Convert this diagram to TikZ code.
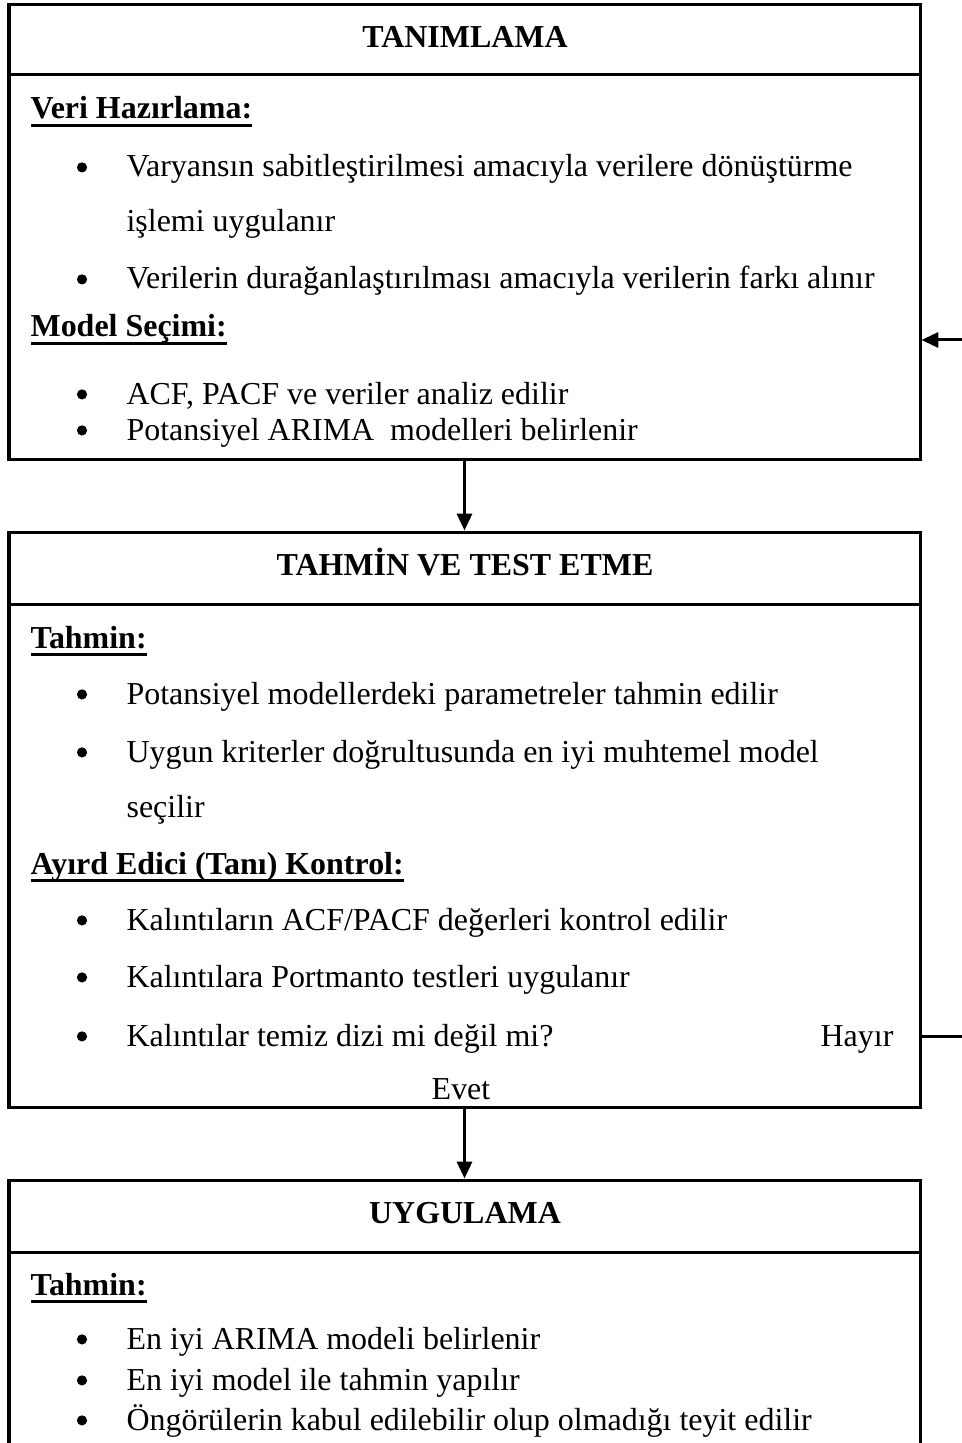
\documentclass[tikz,border=0pt]{standalone}
\usepackage{fontspec}
\setmainfont{Liberation Serif}
\usetikzlibrary{arrows.meta, positioning, fit}
\newsavebox{\headbox}
% kalin ve alti cizili baslik
\newcommand{\ulhead}[1]{\sbox{\headbox}{\bfseries #1}\rlap{\usebox{\headbox}}\rule[-2.7pt]{\wd\headbox}{0.9pt}}
\tikzset{
  >=Latex,
  % kutular
  box/.style={draw,line width=1pt,inner sep=0pt},
  box title/.style={font=\fontsize{10.65}{13}\selectfont\bfseries,anchor=base,inner sep=0pt},
  head/.style={anchor=base west,inner sep=0pt},
  item/.style={anchor=base west,inner sep=0pt},
  dot/.style={circle,fill,inner sep=0pt,minimum size=3.4pt,yshift=3.2pt},
  % baglantilar
  connect/.style={line width=1pt},
  connect arrow/.style={-{Triangle[length=5.6pt,width=5pt]},line width=1pt}
}
\begin{document}
\begin{tikzpicture}[x=0.3333pt,y=-0.3333pt,font=\fontsize{10.65}{13}\selectfont]
  \useasboundingbox (0,0) rectangle (962,1443);
  % TANIMLAMA
  \node[box,fit={(9,5) (920,459)}] (tanimlama) {};
  \draw[connect] (tanimlama.west |- 0,75) -- (tanimlama.east |- 0,75);
  \node[box title] (t1) at (465,48) {TANIMLAMA};
  \node[head] (vh) at (30,119) {\ulhead{Veri Hazırlama:}};
  \node[dot] (d1) at (82,177) {};
  \node[item] (v1) at (126,177) {Varyansın sabitleştirilmesi amacıyla verilere dönüştürme};
  \node[item] (v1b) at (126,232) {işlemi uygulanır};
  \node[dot] (d2) at (82,289) {};
  \node[item] (v2) at (126,289) {Verilerin durağanlaştırılması amacıyla verilerin farkı alınır};
  \node[head] (ms) at (30,337) {\ulhead{Model Seçimi:}};
  \node[dot] (d3) at (82,404) {};
  \node[item] (m1) at (126,404) {ACF, PACF ve veriler analiz edilir};
  \node[dot] (d4) at (82,440) {};
  \node[item] (m2) at (126,440) {Potansiyel ARIMA\ \ modelleri belirlenir};
  % TAHMIN VE TEST ETME
  \node[box,fit={(9,532) (920,1107)}] (tahmin) {};
  \draw[connect] (tahmin.west |- 0,604) -- (tahmin.east |- 0,604);
  \node[box title] (t2) at (465,575) {TAHMİN VE TEST ETME};
  \node[head] (th) at (30,648) {\ulhead{Tahmin:}};
  \node[dot] (d5) at (82,704) {};
  \node[item] (p1) at (126,704) {Potansiyel modellerdeki parametreler tahmin edilir};
  \node[dot] (d6) at (82,762) {};
  \node[item] (p2) at (126,762) {Uygun kriterler doğrultusunda en iyi muhtemel model};
  \node[item] (p2b) at (126,817) {seçilir};
  \node[head] (ak) at (30,874) {\ulhead{Ayırd Edici (Tanı) Kontrol:}};
  \node[dot] (d7) at (82,930) {};
  \node[item] (k1) at (126,930) {Kalıntıların ACF/PACF değerleri kontrol edilir};
  \node[dot] (d8) at (82,987) {};
  \node[item] (k2) at (126,987) {Kalıntılara Portmanto testleri uygulanır};
  \node[dot] (d9) at (82,1046) {};
  \node[item] (k3) at (126,1046) {Kalıntılar temiz dizi mi değil mi?};
  \node[anchor=base east,inner sep=0pt] (hayir) at (894,1046) {Hayır};
  \node[anchor=base,inner sep=0pt] (evet) at (461,1099) {Evet};
  % UYGULAMA
  \node[box,fit={(9,1180) (920,1470)}] (uygulama) {};
  \draw[connect] (uygulama.west |- 0,1252) -- (uygulama.east |- 0,1252);
  \node[box title] (t3) at (465,1223) {UYGULAMA};
  \node[head] (uh) at (30,1295) {\ulhead{Tahmin:}};
  \node[dot] (d10) at (82,1349) {};
  \node[item] (u1) at (126,1349) {En iyi ARIMA modeli belirlenir};
  \node[dot] (d11) at (82,1390) {};
  \node[item] (u2) at (126,1390) {En iyi model ile tahmin yapılır};
  \node[dot] (d12) at (82,1430) {};
  \node[item] (u3) at (126,1430) {Öngörülerin kabul edilebilir olup olmadığı teyit edilir};
  % oklar
  \draw[connect arrow] (tanimlama.south) -- (tahmin.north);
  \draw[connect arrow] (tahmin.south) -- (uygulama.north);
  \coordinate (geri) at (980,700);
  \draw[connect arrow] (tahmin.east |- 0,1036) -| (geri) |- (tanimlama.east |- 0,340);
\end{tikzpicture}
\end{document}
